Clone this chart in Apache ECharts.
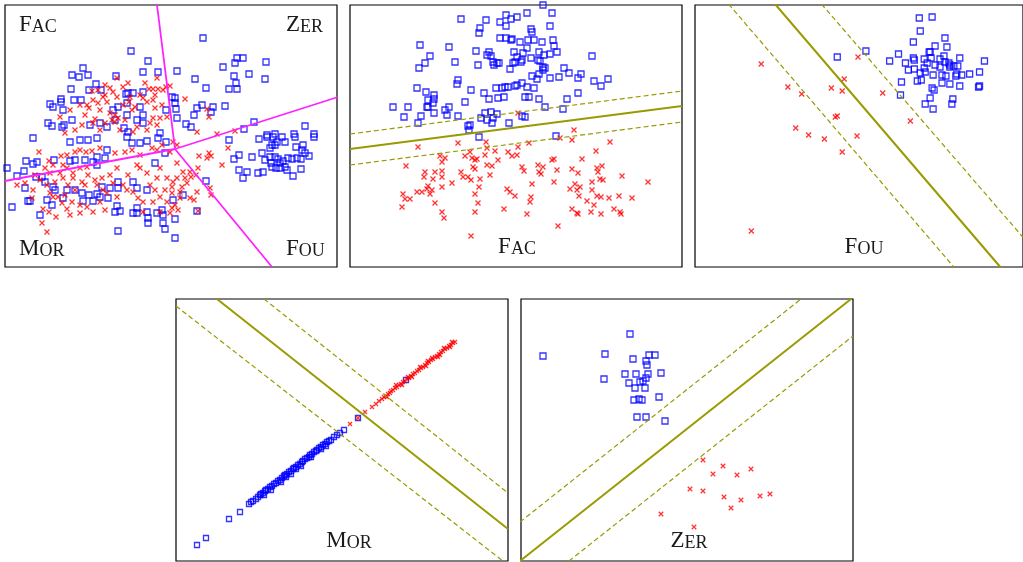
<!DOCTYPE html>
<html><head><meta charset="utf-8">
<script src="https://cdn.jsdelivr.net/npm/echarts@6/dist/echarts.min.js"></script>
<style>html,body{margin:0;padding:0;background:#fff}#c{width:1023px;height:562px}</style>
</head><body><div id="c"></div><script>
// ---------- Panel 1 (four-class view) ----------
const p1Blue = [
[126,46],[143,56],[138,67],[153,67],[78,63],[67,70],[74,72],[83,70],[111,71],[91,79],[66,84],[84,85],[96,85],[121,89],[123,88],[128,88],[138,87],[45,99],[56,94],[48,102],[58,105],[69,95],[76,95],[56,97],[122,98],[113,102],[108,105],[135,102],[161,105],[43,118],[47,121],[57,122],[67,115],[59,120],[85,120],[95,118],[102,122],[110,115],[119,123],[123,127],[132,115],[138,118],[138,110],[122,110],[155,128],
[198,33],[232,53],[238,53],[230,58],[261,57],[218,62],[244,69],[260,74],[172,66],[190,74],[229,71],[231,78],[224,84],[232,84],[201,83],[170,93],[170,98],[171,104],[172,113],[192,103],[197,100],[208,102],[220,101],[206,107],[189,110],[181,119],[186,122],[249,117],[239,124],[300,121],[262,130],[270,129],[289,129],[309,129],[167,92],
[224,135],[254,134],[262,132],[268,132],[277,132],[290,132],[309,132],[229,154],[234,150],[247,152],[257,148],[265,143],[272,137],[280,137],[291,142],[298,140],[297,145],[300,148],[304,151],[260,155],[265,152],[270,152],[273,154],[278,156],[283,153],[287,154],[292,153],[296,154],[267,162],[271,163],[275,163],[280,162],[282,165],[288,171],[296,164],[234,165],[242,167],[238,173],[253,168],[258,167],[201,176],[178,190],[168,195],[192,206],[170,214],[170,233],[266,158],[275,158],[270,140],[267,140],
[28,133],[65,137],[75,135],[83,135],[92,133],[122,132],[127,138],[135,138],[142,136],[153,133],[161,137],[21,156],[28,159],[32,157],[49,155],[65,156],[70,155],[80,155],[88,157],[92,160],[100,153],[102,145],[92,152],[150,158],[160,148],[2,163],[12,171],[19,166],[31,172],[37,172],[20,183],[40,177],[48,182],[50,185],[62,185],[70,185],[77,188],[84,190],[92,189],[97,182],[105,183],[113,183],[113,177],[128,177],[132,183],[142,185],[25,196],[23,196],[42,195],[47,200],[58,193],[78,196],[88,196],[95,192],[103,193],[7,202],[35,210],[112,201],[110,207],[115,206],[128,208],[132,208],[132,203],[142,207],[143,213],[143,218],[152,208],[158,210],[157,205],[158,218],[160,224],[113,226]
];
const p1Red = [
[112,73],[123,78],[152,73],[161,82],[108,87],[93,85],[87,86],[140,78],[148,84],[144,84],[153,84],[158,85],[82,100],[84,103],[93,98],[98,92],[112,92],[102,97],[95,105],[55,112],[80,110],[90,114],[105,108],[110,110],[113,113],[107,115],[110,117],[127,105],[130,102],[142,97],[148,95],[150,103],[148,113],[155,113],[162,112],[132,122],[115,125],[77,120],[128,127],[95,125],[142,125],
[100,80],[105,83],[118,82],[125,92],[135,90],[100,90],[88,95],[75,100],[65,105],[118,100],[124,97],[138,93],[150,90],[157,100],[120,115],[100,118],[88,118],[70,125],[60,128],[145,118],[152,120],
[165,81],[180,94],[202,104],[204,112],[192,127],[212,129],[230,126],
[168,137],[172,140],[165,147],[194,151],[204,148],[206,151],[202,153],[223,143],[217,160],[193,163],[191,170],[172,158],[178,167],[185,167],[186,172],[180,173],[172,173],[168,177],[167,182],[177,182],[182,178],[175,187],[167,188],[175,193],[185,193],[189,195],[192,187],[205,183],[206,190],[170,200],[167,203],[173,205],[193,206],[165,208],
[34,147],[44,156],[56,151],[48,160],[40,163],[62,150],[70,147],[75,145],[81,147],[87,146],[95,143],[110,148],[120,147],[127,145],[135,150],[147,143],[152,145],[157,140],[132,160],[135,163],[142,168],[152,173],[155,163],[162,173],[55,168],[68,173],[77,177],[83,170],[90,175],[97,173],[63,180],[70,185],[60,190],[67,197],[53,192],[57,198],[62,204],[45,188],[48,192],[28,185],[27,193],[38,204],[44,207],[51,212],[37,218],[42,227],[75,208],[82,202],[88,207],[92,180],[102,188],[112,192],[122,185],[133,193],[138,197],[148,197],[155,192],[162,197],[155,207],[138,207],[95,197],[105,170],[112,163],[123,170],[82,162],[62,163],[75,163],[58,173],[50,177],[42,180],
[30,170],[35,175],[45,168],[58,160],[68,168],[80,180],[98,185],[108,178],[118,180],[128,187],[145,180],[150,185],[160,185],[65,210],[75,200],[100,205],[20,178],[12,180]
];
const p1BoundA = [[152,0],[170,144],[267,262]];
const p1BoundB = [[0,176],[170,144],[333,92]];

// ---------- Panel 2 (Fac) ----------
const p2Blue = [
[111,14],[136,15],[150,17],[156,10],[161,14],[156,21],[130,23],[129,28],[70,40],[99,42],[80,51],[75,58],[69,63],[105,57],[126,46],[128,60],[137,50],[139,47],[141,51],[143,57],[144,60],[147,58],[149,58],[160,64],[150,33],[156,33],[161,35],[162,34],[164,47],[163,58],[108,75],[107,79],[121,85],[134,88],[139,94],[146,83],[152,83],[155,82],[158,82],[148,93],[154,92],[67,83],[76,87],[84,90],[84,94],[83,98],[78,95],[78,102],[77,102],[84,108],[71,111],[58,102],[43,102],[54,112],[68,118],[95,105],[99,102],[97,110],[108,111],[115,97],[135,108],[141,107],[147,109],[143,113],[131,113],[137,115],[142,118],[118,121],[120,120],[119,125],[159,118],[165,81],
[193,0],[177,8],[202,8],[167,12],[200,21],[181,24],[182,27],[170,37],[178,35],[184,35],[192,37],[203,35],[204,41],[207,47],[194,50],[200,49],[189,47],[177,43],[173,48],[167,52],[172,55],[181,53],[188,55],[190,56],[165,57],[171,57],[193,62],[193,65],[195,63],[214,63],[219,68],[231,69],[228,73],[242,51],[182,71],[189,69],[187,74],[200,73],[209,72],[244,76],[251,81],[258,74],[172,78],[167,80],[177,82],[184,83],[175,92],[179,92],[189,94],[217,94],[228,88],[195,102],[213,104],[172,111],[175,112],[206,131],[129,132]
];
const p2Red = [
[168,108],[224,125],
[68,142],[108,138],[136,137],[137,143],[145,146],[158,147],[162,151],[56,161],[90,151],[95,153],[92,157],[115,151],[120,147],[122,153],[125,155],[127,154],[123,162],[125,164],[135,150],[137,160],[142,161],[148,155],[140,170],[75,167],[74,172],[85,167],[92,166],[92,172],[83,174],[111,167],[113,172],[118,172],[121,175],[130,174],[129,182],[102,178],[92,182],[78,181],[77,184],[82,185],[80,189],[72,187],[67,187],[53,189],[55,194],[60,194],[52,202],[85,198],[92,207],[94,213],[125,189],[128,198],[125,207],[121,231],[157,184],[160,187],[154,204],
[168,142],[179,138],[167,150],[222,135],[260,137],[246,146],[204,154],[202,155],[232,154],[172,162],[174,166],[188,160],[193,162],[189,167],[191,169],[207,165],[222,164],[228,168],[247,163],[252,161],[248,167],[182,179],[204,177],[242,177],[250,174],[253,175],[272,171],[298,177],[220,184],[225,179],[230,182],[227,185],[229,191],[242,185],[247,191],[251,192],[259,193],[269,191],[282,193],[181,192],[180,197],[237,196],[244,200],[241,207],[222,204],[228,209],[227,208],[251,209],[264,204],[270,207],[271,209],[177,209],[208,221],[165,191],[210,133]
];
const p2Sep = [[0,144],[332,101]];
const p2MarginA = [[0,129],[332,86]];
const p2MarginB = [[0,160],[332,117]];

// ---------- Panel 3 (Fou) ----------
const p3Blue = [
[144,52],[173,46],[227,13],[240,12],[228,26],[253,33],[221,37],[243,41],[255,42],[206,49],[197,56],[213,58],[221,53],[222,55],[237,47],[238,47],[232,54],[235,58],[239,53],[243,60],[248,54],[252,51],[253,57],[257,58],[258,60],[262,61],[266,61],[268,53],[293,56],[216,65],[222,64],[228,68],[233,67],[241,70],[250,70],[254,71],[264,71],[265,69],[270,70],[278,69],[288,67],[209,77],[225,76],[229,75],[250,78],[258,79],[268,81],[287,82],[288,81],[240,83],[242,85],[208,90],[238,93],[261,94],[233,99],[260,99],[241,104],[232,63],[248,62],[258,62]
];
const p3Red = [
[67,59],[165,52],[94,82],[108,89],[151,74],[138,83],[149,86],[190,88],[142,112],[144,111],[102,123],[115,130],[131,134],[164,131],[149,147],[218,116],[57,226]
];
const p3Sep = [[81,-1],[309,262]];
const p3MarginA = [[34,-1],[262,262]];
const p3MarginB = [[128,-1],[358,262]];

// ---------- Panel 4 (Mor) ----------
const p4Blue = [
[21,246],[30,239],[53,220],[64,213],[73,205],[75,203],[77,202],
[80,200],[82,198],[84,196],[85,195],[87,194],[89,192],[90,191],[92,190],[94,188],[96,187],[98,185],[100,184],[102,182],[104,181],[106,179],[108,177],[109,176],[111,175],[113,173],[115,172],[117,170],[118,169],[120,168],[122,166],[124,165],[126,163],[127,162],[129,160],[131,159],[133,158],[134,156],[136,155],[138,153],[140,152],[141,151],[143,149],[145,148],[147,146],[149,145],[151,143],[153,142],[155,141],[158,138],[161,136],[164,134],[168,131],[182,119],
[110,178],[120,170],[135,158],[105,183],[145,150],[95,191],[88,196],[125,167],[150,147],[115,175],[230,81]
];
const p4Red = [
[174,125],[182,119],[189,113],[196,108],[200,105],[203,102],[206,100],[208,98],[210,97],[212,95],[214,94],[215,92],[217,91],[219,89],[221,88],[223,86],[225,85],[227,83],[229,82],[231,80],[233,79],[235,77],[237,75],[239,74],[241,72],[243,71],[245,69],[247,68],[249,66],[251,64],[253,63],[255,61],[257,60],[259,58],[261,57],[263,55],[265,53],[267,52],[269,50],[271,49],[273,47],[275,46],[277,44],[279,43],
[211,98],[220,86],[236,78],[244,68],[250,67],[256,59],[262,58],[268,49],[274,48],[276,43],[264,56],[252,62],[226,86],[232,78]
];
const p4Sep = [[41,0],[332,230]];
const p4MarginA = [[88,0],[332,194]];
const p4MarginB = [[0,7],[332,266]];

// ---------- Panel 5 (Zer) ----------
const p5Blue = [
[22,57],[109,35],[84,55],[112,60],[125,62],[128,56],[134,56],[126,66],[104,75],[115,75],[127,75],[140,74],[83,80],[108,84],[119,83],[122,82],[125,79],[114,89],[124,89],[138,98],[113,101],[118,100],[121,101],[116,118],[125,118],[144,122]
];
const p5Red = [
[182,161],[202,167],[192,175],[216,176],[230,170],[169,190],[182,192],[203,198],[220,201],[239,197],[249,195],[210,209],[140,215],[173,228]
];
const p5Sep = [[-1,262],[330,0]];
const p5MarginA = [[-1,223],[280,0]];
const p5MarginB = [[48,262],[332,37]];

// ---------- layout ----------
const panelBoxes = [[5,5],[350,5],[695,5],[176,299],[521,299]];
const PW = 332, PH = 262;
const BLUE = '#0000ff', RED = '#ff0000', OLIVE = '#9a9a00', MAG = '#ff22ff';
const CROSS = 'path://M0 0L10 10M10 0L0 10';

const grids = [], xAxes = [], yAxes = [], series = [];
panelBoxes.forEach((b, i) => {
  grids.push({left:b[0], top:b[1], width:PW, height:PH, show:true, borderColor:'#000', borderWidth:1.2, backgroundColor:'transparent'});
  xAxes.push({gridIndex:i, type:'value', min:0, max:PW, show:false});
  yAxes.push({gridIndex:i, type:'value', min:0, max:PH, inverse:true, show:false});
});

function pts(i, data, isBlue, size) {
  series.push({type:'scatter', xAxisIndex:i, yAxisIndex:i, data:data,
    symbol: isBlue ? 'rect' : CROSS, symbolSize: size,
    itemStyle: isBlue ? {color:'rgba(0,0,0,0)', borderColor:BLUE, borderWidth:1.3}
                      : {color:'rgba(0,0,0,0)', borderColor:RED, borderWidth:1.3},
    silent:true, z: isBlue ? 2 : 3});
}
function line(i, data, color, width, dashed) {
  series.push({type:'line', xAxisIndex:i, yAxisIndex:i, data:data, symbol:'none', clip:true,
    lineStyle:{color:color, width:width, type: dashed ? [5,3] : 'solid'}, silent:true, z:4});
}

pts(0, p1Blue, true, 6); pts(0, p1Red, false, 5);
line(0, p1BoundA, MAG, 1.8, false); line(0, p1BoundB, MAG, 1.8, false);

pts(1, p2Blue, true, 6); pts(1, p2Red, false, 5);
line(1, p2Sep, OLIVE, 2, false); line(1, p2MarginA, OLIVE, 1.2, true); line(1, p2MarginB, OLIVE, 1.2, true);

pts(2, p3Blue, true, 6); pts(2, p3Red, false, 5);
line(2, p3Sep, OLIVE, 2, false); line(2, p3MarginA, OLIVE, 1.2, true); line(2, p3MarginB, OLIVE, 1.2, true);

pts(3, p4Blue, true, 5); pts(3, p4Red, false, 4);
line(3, p4Sep, OLIVE, 2, false); line(3, p4MarginA, OLIVE, 1.2, true); line(3, p4MarginB, OLIVE, 1.2, true);

pts(4, p5Blue, true, 6); pts(4, p5Red, false, 4.5);
line(4, p5Sep, OLIVE, 2, false); line(4, p5MarginA, OLIVE, 1.2, true); line(4, p5MarginB, OLIVE, 1.2, true);

// small-caps labels
const FONT = '"Liberation Serif", "DejaVu Serif", serif';
function sc(first, rest, x, y, align) {
  return {type:'text', x:x, y:y, z:10, silent:true,
    style:{text:'{a|' + first + '}{b|' + rest + '}', align:align, verticalAlign:'bottom',
      rich:{a:{fontSize:23, lineHeight:23, fontFamily:FONT, fill:'#1a1a1a', verticalAlign:'bottom'},
            b:{fontSize:18, lineHeight:20, fontFamily:FONT, fill:'#1a1a1a', verticalAlign:'bottom'}}}};
}
const graphics = [
  sc('F','AC', 19, 36, 'left'), sc('Z','ER', 286, 36, 'left'),
  sc('M','OR', 19, 260, 'left'), sc('F','OU', 286, 260, 'left'),
  sc('F','AC', 517, 258, 'center'), sc('F','OU', 864, 258, 'center'),
  sc('M','OR', 349, 552, 'center'), sc('Z','ER', 689, 552, 'center')
];

const chart = echarts.init(document.getElementById('c'), null, {renderer:'canvas'});
chart.setOption({animation:false, backgroundColor:'#fff', grid:grids, xAxis:xAxes, yAxis:yAxes, series:series, graphic:graphics});
</script></body></html>
